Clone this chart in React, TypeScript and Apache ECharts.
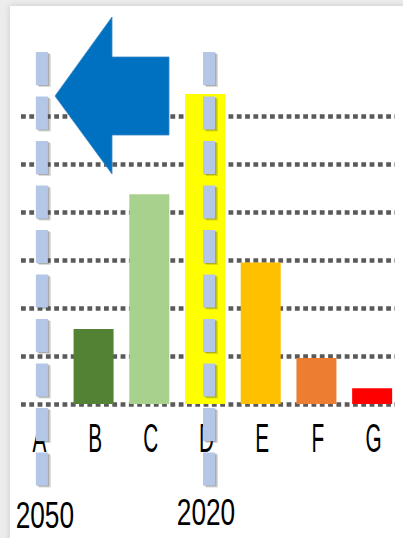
import React, { useEffect, useRef } from "react";
import * as echarts from "echarts";

const categories = ["A", "B", "C", "D", "E", "F", "G"];
const values = [0, 1.56, 4.37, 6.46, 2.95, 0.96, 0.33];
const barColors = ["#ffffff", "#548235", "#a9d18e", "#ffff00", "#ffc000", "#ed7d31", "#ff0000"];
const yMin = 0;
const yMax = 7;
const yInterval = 1;
const markerCategories = ["A", "D"];
const markerYears = ["2050", "2020"];

const labelFont = "'Liberation Sans', Arial, sans-serif";

export default function App() {
  const ref = useRef<HTMLDivElement>(null);

  useEffect(() => {
    document.body.style.margin = "0";
    if (!ref.current) return;
    const chart = echarts.init(ref.current, null, { renderer: "svg" });
    const option: any = {
      animation: false,
      backgroundColor: "transparent",
      grid: [
        { left: 10, right: 3, top: 68, bottom: 134 },
        { left: 21, right: 8, top: 68, bottom: 134 },
      ],
      xAxis: [
        {
          type: "category",
          gridIndex: 0,
          data: categories,
          axisLine: { show: false },
          axisTick: { show: false },
          axisLabel: { show: false },
        },
        { type: "value", gridIndex: 1, show: false, min: 0, max: 1 },
      ],
      yAxis: [
        { type: "value", gridIndex: 0, min: yMin, max: yMax, interval: yInterval, show: false },
        {
          type: "value",
          gridIndex: 1,
          min: yMin,
          max: yMax,
          interval: yInterval,
          axisLabel: { show: false },
          axisLine: { show: false },
          axisTick: { show: false },
          splitLine: {
            show: true,
            showMaxLine: false,
            lineStyle: { color: "#5a5a5a", width: 4.5, type: [4.8, 3.5] },
          },
        },
      ],
      series: [
        {
          type: "bar",
          xAxisIndex: 0,
          yAxisIndex: 0,
          barWidth: 40,
          data: values.map((v, i) => ({ value: v, itemStyle: { color: barColors[i] } })),
        },
      ],
    };
    chart.setOption(option);

    const graphics: any[] = [];
    categories.forEach((cat) => {
      const x = chart.convertToPixel({ xAxisIndex: 0 }, cat) as number;
      graphics.push({
        type: "text",
        z: 40,
        x: x + 1.5,
        y: 438,
        scaleX: 0.52,
        style: {
          text: cat,
          fontFamily: labelFont,
          fontSize: 40,
          fill: "#000000",
          align: "center",
          verticalAlign: "middle",
          textShadowColor: "rgba(237,125,49,0.8)",
          textShadowOffsetX: 1.5,
        },
      });
    });
    graphics.push({
      type: "polygon",
      z: 50,
      shape: {
        points: [
          [55, 96],
          [112, 17],
          [112, 57],
          [169, 57],
          [169, 135],
          [112, 135],
          [112, 174],
        ],
      },
      style: { fill: "#0070c0", stroke: "#3a86c8", lineWidth: 0.8 },
    });
    markerCategories.forEach((cat, i) => {
      const x = chart.convertToPixel({ xAxisIndex: 0 }, cat) as number;
      const lx = x + 4;
      graphics.push({
        type: "line",
        z: 98,
        shape: { x1: lx + 3, y1: 54, x2: lx + 3, y2: 489 },
        style: {
          stroke: "rgba(70,70,70,0.2)",
          lineWidth: 12,
          lineDash: [33, 11.5],
          lineCap: "butt",
        },
      });
      graphics.push({
        type: "line",
        z: 99,
        shape: { x1: lx + 1.5, y1: 53, x2: lx + 1.5, y2: 487.5 },
        style: {
          stroke: "rgba(70,70,70,0.3)",
          lineWidth: 12,
          lineDash: [33, 11.5],
          lineCap: "butt",
        },
      });
      graphics.push({
        type: "line",
        z: 100,
        shape: { x1: lx, y1: 52, x2: lx, y2: 486 },
        style: {
          stroke: "#b4c7e7",
          lineWidth: 12,
          lineDash: [33, 11.5],
          lineCap: "butt",
        },
      });
      graphics.push({
        type: "text",
        z: 100,
        x: lx + (i === 0 ? 3 : -3),
        y: i === 0 ? 515 : 512,
        scaleX: 0.71,
        style: {
          text: markerYears[i],
          fontFamily: labelFont,
          fontSize: 37,
          fill: "#000000",
          align: "center",
          verticalAlign: "middle",
          textShadowColor: "rgba(237,125,49,0.8)",
          textShadowOffsetX: 1.5,
        },
      });
    });
    chart.setOption({ graphic: graphics });

    return () => chart.dispose();
  }, []);

  return (
    <div style={{ position: "relative", width: 403, height: 538, background: "#ececec", overflow: "hidden" }}>
      <div
        style={{
          position: "absolute",
          left: 10,
          top: 6,
          width: 403,
          height: 540,
          background: "#ffffff",
          boxShadow: "0 0 6px rgba(0,0,0,0.15)",
        }}
      />
      <div ref={ref} style={{ position: "absolute", left: 0, top: 0, width: 403, height: 538 }} />
    </div>
  );
}
